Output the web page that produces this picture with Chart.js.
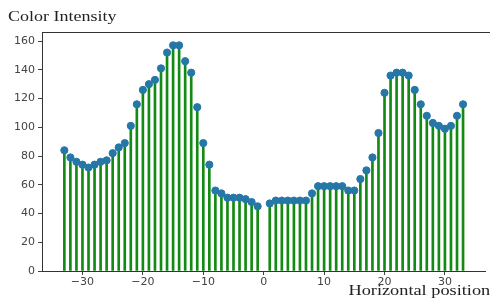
<!DOCTYPE html>
<html>
<head>
<meta charset="utf-8">
<script src="https://cdn.jsdelivr.net/npm/chart.js@4"></script>
<style>
  html, body { margin: 0; padding: 0; background: #fff; overflow: hidden; }
  #wrap { position: relative; width: 490px; height: 298px; }
  .lbl { position: absolute; font-family: "Liberation Serif", serif; color: #222; white-space: nowrap; font-size: 15px; }
  #ylabel { left: 8px; top: 8px; transform: scaleX(1.2); transform-origin: left top; }
  #xlabel { right: 0px; top: 282px; transform: scaleX(1.22); transform-origin: right top; }
</style>
</head>
<body>
<div id="wrap">
  <canvas id="stemChart" width="490" height="298"></canvas>
  <div class="lbl" id="ylabel">Color Intensity</div>
  <div class="lbl" id="xlabel">Horizontal position</div>
</div>
<script>
// Data (x = -33 .. 33, nothing at 0)
const positions = [
  -33, -32, -31, -30, -29, -28, -27, -26, -25, -24, -23, -22, -21, -20, -19, -18, -17,
  -16, -15, -14, -13, -12, -11, -10, -9, -8, -7, -6, -5, -4, -3, -2, -1,
  1, 2, 3, 4, 5, 6, 7, 8, 9, 10, 11, 12, 13, 14, 15, 16,
  17, 18, 19, 20, 21, 22, 23, 24, 25, 26, 27, 28, 29, 30, 31, 32, 33
];
const intensity = [
  84, 79, 76, 74, 72, 74, 76, 77, 82, 86, 89, 101, 116, 126, 130, 133, 141,
  152, 157, 157, 146, 138, 114, 89, 74, 56, 54, 51, 51, 51, 50, 48, 45,
  47, 49, 49, 49, 49, 49, 49, 54, 59, 59, 59, 59, 59, 56, 56, 64,
  70, 79, 96, 124, 136, 138, 138, 136, 126, 116, 108, 103, 101, 99, 101, 108, 116
];
const xTicks = [-30, -20, -10, 0, 10, 20, 30];
const yTicks = [0, 20, 40, 60, 80, 100, 120, 140, 160];

const points = positions.map((x, i) => ({ x: x, y: intensity[i] }));

// top spine (matplotlib-style frame, right side falls off the picture)
const topSpine = {
  id: "topSpine",
  afterDraw(chart) {
    const { ctx, chartArea } = chart;
    ctx.save();
    ctx.strokeStyle = "#333";
    ctx.lineWidth = 1;
    ctx.beginPath();
    ctx.moveTo(chartArea.left, chartArea.top + 0.5);
    ctx.lineTo(chartArea.right + 5, chartArea.top + 0.5);
    ctx.stroke();
    ctx.restore();
  },
};

const tickFont = { family: "DejaVu Sans", size: 11 };

new Chart(document.getElementById("stemChart"), {
  type: "bar",
  data: {
    datasets: [
      {
        type: "scatter",
        data: points,
        backgroundColor: "#2577a8",
        borderColor: "#2577a8",
        pointRadius: 3.6,
        pointHoverRadius: 3.6,
        order: 1,
      },
      {
        type: "bar",
        data: points,
        backgroundColor: "#138a13",
        barThickness: 2,
        order: 2,
      },
    ],
  },
  options: {
    responsive: false,
    animation: false,
    events: [],
    layout: { padding: { top: 32, left: 0, right: 0, bottom: 0 } },
    plugins: { legend: { display: false }, tooltip: { enabled: false } },
    scales: {
      x: {
        type: "linear",
        min: -36.7,
        max: 36.7,
        offset: false,
        afterBuildTicks: (axis) => {
          axis.ticks = xTicks.map((v) => ({ value: v }));
        },
        afterFit: (axis) => {
          axis.height = 27;
        },
        ticks: {
          font: tickFont,
          color: "#444",
          padding: 1,
          maxRotation: 0,
          autoSkip: false,
          callback: (v) => String(v).replace("-", "\u2212"),
        },
        grid: { offset: false, drawOnChartArea: false, tickLength: 4, color: "#444" },
        border: { color: "#333", width: 1 },
      },
      y: {
        min: 0,
        max: 166.3,
        afterBuildTicks: (axis) => {
          axis.ticks = yTicks.map((v) => ({ value: v }));
        },
        afterFit: (axis) => {
          axis.width = 42;
        },
        ticks: { font: tickFont, color: "#444", padding: 3 },
        grid: { drawOnChartArea: false, tickLength: 4, color: "#444" },
        border: { color: "#333", width: 1 },
      },
    },
  },
  plugins: [topSpine],
});
</script>
</body>
</html>
